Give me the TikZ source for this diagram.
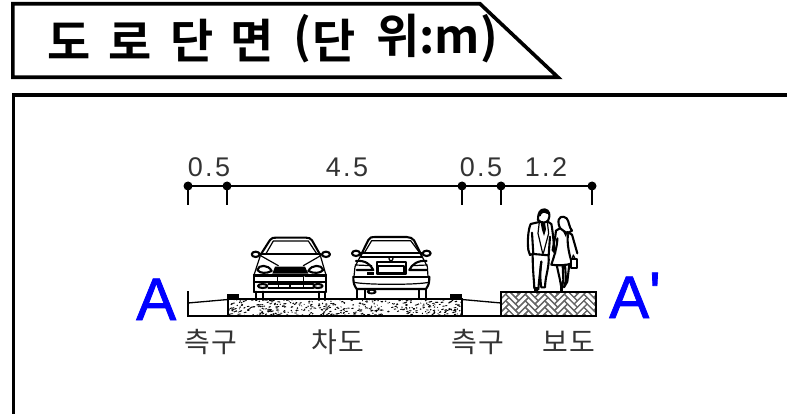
\documentclass[tikz,border=0pt]{standalone}
\usepackage{fontspec}
\newfontfamily\krfont[LetterSpace=3]{Noto Sans CJK KR}
\newfontfamily\krbold{Noto Sans CJK KR Bold}
\setmainfont{Liberation Sans}
\newfontfamily\numfont[LetterSpace=9]{Liberation Sans}
\newfontfamily\bigfont[FakeBold=1.3]{Liberation Sans}
\tikzset{
  frameline/.style={line width=3.6pt,line join=miter},
  dimdot/.style={circle,fill=black,inner sep=0pt,minimum size=9pt},
  dimnum/.style={inner sep=0pt,font=\numfont\fontsize{27}{27}\selectfont,text=black!80},
  kolabel/.style={inner sep=0pt,font=\krfont\fontsize{28}{28}\selectfont,text=black!80},
  titlechar/.style={inner sep=0pt,anchor=center,font=\krbold\fontsize{47}{47}\selectfont},
  bigletter/.style={inner sep=0pt,text=blue,font=\bigfont\fontsize{60}{60}\selectfont},
  sect/.style={line width=1.3pt},
  art/.style={line width=1.2pt,line join=round,line cap=round},
  artthick/.style={line width=2.1pt,line join=round,line cap=round},
  zoomframe/.style={x=0.3333pt,y=-0.3333pt},
  brick/.style={line width=1.1pt,black!60},
}
\begin{document}
\begin{tikzpicture}[x=1pt,y=-1pt]
\useasboundingbox (0,0) rectangle (787,414);
% title plate
\draw[frameline] (12.8,3.8) -- (480,3.8) -- (558,77.3) -- (12.8,77.3) -- cycle;
\draw[frameline] (13.5,414) -- (13.5,95) -- (787,95);
\node[titlechar] (t1) at (69,41) {도};
\node[titlechar] (t2) at (130,41) {로};
\node[titlechar] (t3) at (192,41) {단};
\node[titlechar] (t4) at (252,41) {면};
\node[titlechar] (t5) at (302,39) {(};
\node[titlechar] (t6) at (334,41) {단};
\node[titlechar,anchor=center] (t7) at (437,39) {위:m)};
% dimension line
\node[dimdot] (d1) at (188,186) {};
\node[dimdot] (d2) at (227,186) {};
\node[dimdot] (d3) at (462,186) {};
\node[dimdot] (d4) at (501,186) {};
\node[dimdot] (d5) at (592,186) {};
\coordinate (e1) at (188,205);
\coordinate (e2) at (227,205);
\coordinate (e3) at (462,205);
\coordinate (e4) at (501,205);
\coordinate (e5) at (592,205);
\draw[line width=1.3pt] (d1.center) -- (d5.center);
\foreach \i in {1,...,5} \draw[line width=1.3pt] (d\i.center) -- (e\i);
\node[dimnum] (n1) at (209,167) {0.5};
\node[dimnum] (n2) at (347,167) {4.5};
\node[dimnum] (n3) at (481,167) {0.5};
\node[dimnum] (n4) at (546,167) {1.2};
% road speckle
\pgfmathsetseed{4242}
\begin{scope}
\clip (228,299) rectangle (462,316);
\foreach \k in {1,...,480}{
  \pgfmathsetmacro{\px}{228+rnd*234}
  \pgfmathsetmacro{\py}{299+rnd*17}
  \pgfmathsetmacro{\dx}{0.3+rnd*2.0}
  \pgfmathsetmacro{\dy}{0.2+rnd*0.8}
  \fill (\px,\py) -- ++(\dx,-\dy) -- ++(0.8,0.7) -- ++(-\dx,\dy) -- cycle;
}
\end{scope}
% road section
\draw[sect] (188,291) -- (188,316) -- (596,316);
\draw[sect] (228,299) rectangle (462,316);
\draw[sect] (188,303) -- (228,299.5);
\draw[sect] (462,299.5) -- (501,303);
\fill (227,294) rectangle (239,299.5);
\fill (450,294) rectangle (462,299.5);
% sidewalk
\begin{scope}
\clip (501,292) rectangle (596,316);
\begin{scope}[shift={(548,304)},rotate=-45]
\foreach \s in {-4,...,4}{
  \foreach \k in {-7,...,7}{
    \pgfmathsetmacro{\hx}{(\k+3*\s)*4.6}
    \pgfmathsetmacro{\hy}{(\k-3*\s)*4.6}
    \draw[brick] (\hx,\hy) rectangle ++(13.8,4.6);
    \draw[brick] (\hx,\hy+4.6) rectangle ++(4.6,13.8);
  }
}
\end{scope}
\end{scope}
\draw[sect,line width=1.5pt] (501,292) rectangle (596,316);
% labels
\node[kolabel] (l1) at (211,342) {측구};
\node[kolabel] (l2) at (338,342) {차도};
\node[kolabel] (l3) at (478,342) {측구};
\node[kolabel] (l4) at (569,342) {보도};
\node[bigletter,anchor=base west] (a1) at (136,320) {A};
\node[bigletter,anchor=base west] (a2) at (609,318) {A\raisebox{4pt}{\textquotesingle}};
% car front
\begin{scope}[shift={(240,225)},zoomframe]
\draw[artthick] (60,92) -- (90,45) .. controls (95,38) and (100,38) .. (108,38) -- (198,38) .. controls (206,38) and (212,40) .. (216,46) -- (242,92);
\draw[art] (78,86) -- (100,48) -- (205,48) -- (230,86);
\draw[artthick] (60,88) -- (242,88);
\draw[artthick] (47,88) ellipse (12 and 8);
\draw[artthick] (258,88) ellipse (12 and 8);
\draw[art] (62,92) -- (115,122) (242,92) -- (190,122);
\draw[art] (60,95) -- (42,150) (242,95) -- (258,150);
\draw[artthick] (52,135) .. controls (55,118) and (85,118) .. (95,138) .. controls (80,146) and (60,146) .. (52,135);
\draw[artthick] (250,135) .. controls (245,118) and (215,118) .. (205,138) .. controls (220,146) and (240,146) .. (250,135);
\fill (105,125) -- (195,125) -- (205,146) -- (97,146) -- cycle;
\draw[artthick] (42,150) -- (258,150);
\draw[artthick] (42,150) -- (42,200) (258,150) -- (258,200);
\draw[artthick] (42,172) -- (258,172);
\draw[art,fill=white] (113,155) rectangle (190,170);
\draw[art] (42,155) -- (110,155) (195,155) -- (258,155);
\draw[artthick] (85,178) -- (220,178) (85,190) -- (220,190);
\foreach \gx in {115,150,190} \draw[art] (\gx,178) -- (\gx,190);
\draw[artthick] (68,183) ellipse (14 and 6);
\draw[artthick] (234,183) ellipse (14 and 6);
\draw[artthick] (42,200) -- (258,200);
\draw[artthick] (47,200) -- (47,225) (68,200) -- (68,225) (237,200) -- (237,225) (256,200) -- (256,225);
\end{scope}
% car rear
\begin{scope}[shift={(340,225)},zoomframe]
\draw[artthick] (62,92) -- (85,45) .. controls (90,36) and (95,36) .. (105,36) -- (200,36) .. controls (210,36) and (218,40) .. (222,46) -- (245,92);
\draw[art] (74,82) -- (95,47) -- (212,47) -- (238,82);
\draw[artthick] (62,85) -- (245,85);
\draw[art] (62,96) -- (245,96);
\draw[artthick] (48,85) ellipse (12 and 8);
\draw[artthick] (260,85) ellipse (12 and 8);
\draw[art] (62,92) -- (45,125) -- (42,155) (245,92) -- (262,125) -- (264,155);
\draw[artthick] (48,108) .. controls (75,105) and (92,118) .. (100,135) -- (50,135);
\draw[artthick] (260,108) .. controls (235,105) and (215,118) .. (208,135) -- (260,135);
\draw[art] (46,120) -- (95,122) (262,120) -- (215,122);
\draw[artthick] (110,112) rectangle (198,148);
\draw[artthick] (115,122) rectangle (193,144);
\draw[art] (153,101) circle (6);
\fill (82,140) rectangle (103,150);
\draw[artthick] (40,155) -- (268,155);
\draw[artthick] (40,155) .. controls (40,175) and (42,180) .. (50,192) -- (258,192) .. controls (266,180) and (268,175) .. (268,155);
\draw[art] (42,172) .. controls (80,180) and (230,180) .. (266,172);
\draw[artthick] (52,192) -- (52,220) (74,192) -- (74,220) (237,192) -- (237,220) (258,192) -- (258,220);
\draw[artthick,fill=black] (95,200) ellipse (12 and 5);
\fill[white] (95,200) ellipse (6 and 2.5);
\end{scope}
% people
\begin{scope}[shift={(510,200)},zoomframe]
% man
\draw[artthick,fill=white] (84,60) .. controls (84,38) and (90,28) .. (104,28) .. controls (118,30) and (122,45) .. (115,60) .. controls (112,68) and (95,72) .. (84,60) -- cycle;
\fill (84,50) .. controls (84,34) and (100,24) .. (114,32) .. controls (120,38) and (118,46) .. (112,42) .. controls (102,36) and (94,38) .. (92,48) -- cycle;
\draw[artthick] (88,66) -- (62,72) .. controls (54,90) and (52,125) .. (55,150) -- (60,165) -- (68,162);
\draw[artthick] (112,64) -- (124,72) .. controls (128,90) and (130,120) .. (134,155);
\draw[artthick] (66,98) -- (70,162) -- (116,166) -- (120,110);
\fill (92,70) -- (105,68) -- (108,88) -- (102,108) -- (96,90) -- cycle;
\draw[art] (88,66) -- (84,100) -- (98,160);
\draw[art] (112,66) -- (116,100) -- (100,160);
\draw[artthick] (68,165) .. controls (68,210) and (72,240) .. (73,265) -- (85,268) .. controls (88,230) and (92,205) .. (94,185);
\draw[artthick] (116,168) .. controls (118,205) and (106,225) .. (105,262) -- (94,262) .. controls (90,240) and (90,210) .. (94,185);
\fill (73,262) rectangle (84,273);
% woman
\draw[artthick,fill=white] (146,72) .. controls (142,50) and (158,45) .. (170,55) .. controls (178,65) and (176,80) .. (186,92) -- (172,100) -- (160,92) .. controls (152,90) and (148,82) .. (146,72) -- cycle;
\draw[artthick] (148,86) -- (138,92) .. controls (136,115) and (130,135) .. (128,150) -- (136,160);
\draw[artthick] (172,96) -- (186,104) -- (202,160);
\draw[artthick] (142,115) .. controls (142,140) and (132,170) .. (124,194) .. controls (145,198) and (170,196) .. (186,190) .. controls (178,165) and (170,130) .. (174,104);
\fill (158,92) -- (172,96) -- (168,112) -- cycle;
\draw[artthick] (140,195) -- (150,240) -- (155,268) -- (160,240) -- (158,195);
\draw[artthick] (165,194) -- (168,240) -- (162,262) -- (172,245) -- (178,192);
\fill (150,262) rectangle (160,273);
\draw[artthick,fill=white] (182,178) rectangle (200,205);
\draw[art] (186,178) -- (190,165) -- (196,178);
\end{scope}
\end{tikzpicture}
\end{document}
